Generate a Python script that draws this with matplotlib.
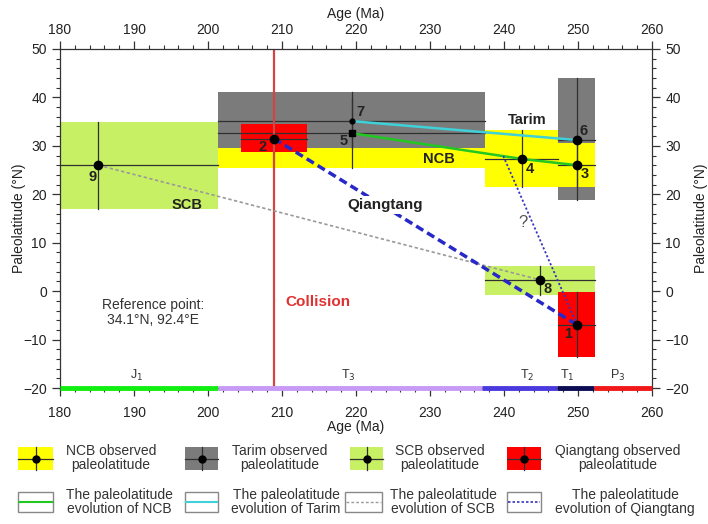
import matplotlib
matplotlib.use('Agg')
import matplotlib.pyplot as plt
from matplotlib.patches import Rectangle
from matplotlib.ticker import MultipleLocator

plt.rcParams['font.family'] = ['Liberation Sans', 'DejaVu Sans']

# ---------------- data ----------------
obs_id = ['1', '2', '3', '4', '5', '6', '7', '8', '9']
obs_block = ['Qiangtang', 'Qiangtang', 'NCB', 'NCB', 'NCB', 'Tarim', 'Tarim', 'SCB', 'SCB']
obs_age = [249.9, 208.9, 249.9, 242.4, 219.5, 249.9, 219.5, 244.9, 185.2]
obs_lat = [-7.0, 31.5, 26.0, 27.3, 32.6, 31.2, 35.1, 2.3, 26.0]
obs_age_min = [247.3, 204.4, 247.3, 237.4, 201.4, 247.3, 201.4, 237.4, 180.0]
obs_age_max = [252.3, 213.4, 252.3, 247.3, 237.4, 252.3, 237.4, 252.3, 201.4]
obs_lat_min = [-13.6, 28.7, 21.5, 21.5, 25.4, 18.8, 29.5, -0.8, 17.0]
obs_lat_max = [-0.2, 34.5, 30.6, 33.3, 39.8, 44.0, 41.1, 5.2, 35.0]

# evolution paths (observation ids)
path_ncb = ['5', '4', '3']
path_tarim = ['7', '6']
path_scb = ['9', '8']
path_qiangtang = ['2', '1']
alt_q_start = (239.9, 27.9)   # start of the questionable Qiangtang path

collision_age = 208.9

age_ticks = [180, 190, 200, 210, 220, 230, 240, 250, 260]

stage_names = [r'J$_1$', r'T$_3$', r'T$_2$', r'T$_1$', r'P$_3$']
stage_bounds = [180, 201.3, 237.0, 247.2, 252.2, 260]
stage_label_x = [190.4, 218.9, 243.1, 248.5, 255.3]

# ---------------- styles ----------------
box_color = {'NCB': '#ffff00', 'Tarim': '#7b7b7b', 'SCB': '#c8f064', 'Qiangtang': '#ff0000'}
stage_colors = ['#11ee11', '#c79af5', '#4a3ade', '#0c0c55', '#f01818']
draw_order = ['6', '5', '4', '3', '7', '9', '8', '2', '1']
label_off = {'1': (-9, -9), '2': (-11, -8), '3': (8, -9), '4': (8, -10), '5': (-9, -8),
             '6': (6, 9), '7': (8, 9), '8': (7, -9), '9': (-6, -12)}

fig = plt.figure(figsize=(7.08, 5.24), dpi=100)
ax = fig.add_axes([60/708, 1-388/524, 592/708, 339/524])
ax.set_xlim(180, 260)
ax.set_ylim(-20, 50)

idx = {k: i for i, k in enumerate(obs_id)}
for z, k in enumerate(draw_order):
    i = idx[k]
    ax.add_patch(Rectangle((obs_age_min[i], obs_lat_min[i]),
                           obs_age_max[i]-obs_age_min[i], obs_lat_max[i]-obs_lat_min[i],
                           facecolor=box_color[obs_block[i]], edgecolor='none', zorder=1+z*0.01))
for i in range(len(obs_id)):
    ax.plot([obs_age_min[i], obs_age_max[i]], [obs_lat[i], obs_lat[i]], color='#303030', lw=0.9, zorder=2)
    ax.plot([obs_age[i], obs_age[i]], [obs_lat_min[i], obs_lat_max[i]], color='#303030', lw=0.9, zorder=2)

ax.axvline(collision_age, color='#d34545', lw=1.6, zorder=2.5)

def pts(path):
    return [obs_age[idx[k]] for k in path], [obs_lat[idx[k]] for k in path]

x, y = pts(path_ncb)
ax.plot(x, y, color='#22c822', lw=1.8, zorder=3)
x, y = pts(path_tarim)
ax.plot(x, y, color='#3fd0d8', lw=1.8, zorder=3)
x, y = pts(path_scb)
ax.plot(x, y, color='#999999', lw=1.2, ls=(0, (2, 1.5)), zorder=3)
x, y = pts(path_qiangtang)
ax.plot(x, y, color='#2828c8', lw=2.5, ls=(0, (2.4, 1.3)), zorder=3)
ax.plot([alt_q_start[0], obs_age[idx['1']]], [alt_q_start[1], obs_lat[idx['1']]],
        color='#3535c0', lw=1.3, ls=(0, (1.2, 1.2)), zorder=3)

for i, k in enumerate(obs_id):
    if k == '7':
        ax.plot(obs_age[i], obs_lat[i], 'o', color='black', ms=3.5, zorder=4)
    elif k == '5':
        ax.plot(obs_age[i], obs_lat[i], 's', color='black', ms=4.5, zorder=4)
    else:
        ax.plot(obs_age[i], obs_lat[i], 'o', color='black', ms=6, zorder=4)
    ax.annotate(k, (obs_age[i], obs_lat[i]), xytext=label_off[k], textcoords='offset pixels',
                ha='center', va='center', fontsize=10.5, fontweight='bold', color='#222222', zorder=5)

ax.text(243.2, 35.3, 'Tarim', fontsize=10.5, fontweight='bold', color='#222222', ha='center', va='center', zorder=5)
ax.text(231.2, 27.3, 'NCB', fontsize=10.5, fontweight='bold', color='#222222', ha='center', va='center', zorder=5)
ax.text(197.1, 17.8, 'SCB', fontsize=10.5, fontweight='bold', color='#222222', ha='center', va='center', zorder=5)
ax.text(224.0, 17.8, 'Qiangtang', fontsize=11, fontweight='bold', color='#222222', ha='center', va='center',
        zorder=5, bbox=dict(facecolor='white', edgecolor='none', pad=1.5))
ax.text(242.6, 14.2, '?', fontsize=12, color='#555555', ha='center', va='center', zorder=5)
ax.text(214.9, -2.3, 'Collision', fontsize=11, fontweight='bold', color='#e03030', ha='center', va='center', zorder=5)
ax.text(192.6, -4.5, 'Reference point:\n34.1°N, 92.4°E', fontsize=10, color='#333333',
        ha='center', va='center', linespacing=1.1, zorder=5)

for j, name in enumerate(stage_names):
    ax.plot([stage_bounds[j], stage_bounds[j+1]], [-20, -20], color=stage_colors[j], lw=3.5,
            solid_capstyle='butt', clip_on=False, zorder=6)
    ax.text(stage_label_x[j], -17.4, name, fontsize=9, color='#333333', ha='center', va='center', zorder=5)

# ticks / axes
ax.set_xticks(age_ticks)
ax.xaxis.set_minor_locator(MultipleLocator(2))
ax.yaxis.set_major_locator(MultipleLocator(10))
ax.yaxis.set_minor_locator(MultipleLocator(2))
ax.tick_params(which='both', direction='out', top=True, right=True, labeltop=False, labelright=True,
               color='#333333', labelcolor='#222222', labelsize=10)
ax.tick_params(which='major', length=6, width=0.9)
ax.tick_params(which='minor', length=3, width=0.8)
ax.tick_params(axis='x', which='major', pad=7)
for s in ax.spines.values():
    s.set_color('#333333')
    s.set_linewidth(0.9)
ax.set_xlabel('Age (Ma)', fontsize=10, color='#222222', labelpad=0)
ax.set_ylabel('Paleolatitude (°N)', fontsize=10, color='#222222', labelpad=-2)

sx = ax.secondary_xaxis('top')
sx.set_xticks(age_ticks)
sx.tick_params(length=0, pad=8.5, labelsize=10, labelcolor='#222222')
sx.spines['top'].set_visible(False)
sx.set_xlabel('Age (Ma)', fontsize=10, color='#222222', labelpad=4)
sy = ax.secondary_yaxis('right')
sy.set_yticks([])
sy.tick_params(length=0)
sy.spines['right'].set_visible(False)
sy.set_ylabel('Paleolatitude (°N)', fontsize=10, color='#222222', labelpad=30, rotation=90)

# ---------------- legend ----------------
lg = fig.add_axes([0, 0, 1, 1], zorder=-1)
lg.set_xlim(0, 708)
lg.set_ylim(524, 0)
lg.axis('off')

leg1_blocks = ['NCB', 'Tarim', 'SCB', 'Qiangtang']
leg1_x = [(18, 53), (185, 218), (350, 383), (507, 541)]
leg1_tx = [111, 280, 440, 618]
for b, (x0, x1), tx in zip(leg1_blocks, leg1_x, leg1_tx):
    lg.add_patch(Rectangle((x0, 447), x1-x0, 23, facecolor=box_color[b], edgecolor='none'))
    xc, yc = (x0+x1)/2, 458.5
    lg.plot([x0, x1], [yc, yc], color='#303030', lw=0.9)
    lg.plot([xc, xc], [447, 470], color='#303030', lw=0.9)
    lg.plot(xc, yc, 'o', color='black', ms=5)
    lg.text(tx, 458, f'{b} observed\npaleolatitude', fontsize=10, color='#333333',
            ha='center', va='center', linespacing=1.05)

leg2_x = [(18, 53), (185, 218), (345, 382), (507, 541)]
leg2_tx = [119, 286, 443, 625]
leg2_style = [dict(color='#22c822', lw=1.5), dict(color='#3fd0d8', lw=1.5),
              dict(color='#999999', lw=1.0, ls=(0, (2, 1.5))), dict(color='#3535c0', lw=1.2, ls=(0, (1.5, 1.2)))]
for b, (x0, x1), tx, st in zip(leg1_blocks, leg2_x, leg2_tx, leg2_style):
    lg.add_patch(Rectangle((x0, 492), x1-x0, 20, facecolor='white', edgecolor='#888888', lw=1.0))
    lg.plot([x0+1, x1-1], [502, 502], **st)
    lg.text(tx, 502, f'The paleolatitude\nevolution of {b}', fontsize=10, color='#333333',
            ha='center', va='center', linespacing=1.05)

fig.savefig('out.png', dpi=100, facecolor='white')
